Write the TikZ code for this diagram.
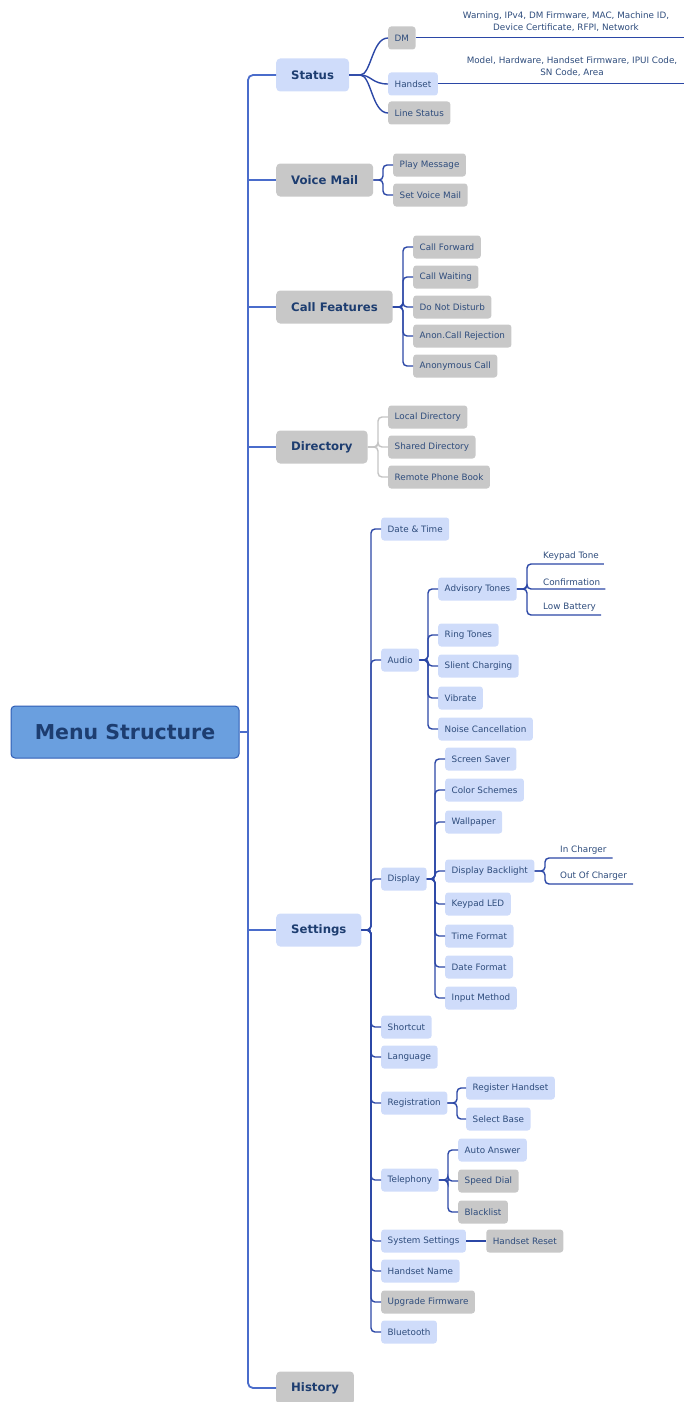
\documentclass[tikz,border=0pt]{standalone}
\usepackage{fontspec}
\setmainfont{DejaVu Sans}
\usetikzlibrary{positioning,calc}

\definecolor{rootfill}{HTML}{6A9FDF}
\definecolor{rootdraw}{HTML}{2F5DB5}
\definecolor{boxblue}{HTML}{CFDCFA}
\definecolor{boxgrey}{HTML}{C8C8C8}
\definecolor{linkblue}{HTML}{2B47A6}
\definecolor{trunkblue}{HTML}{4A6CCB}
\definecolor{txtblue}{HTML}{2E4C7C}
\definecolor{headblue}{HTML}{1D3D70}
\definecolor{dirgrey}{HTML}{C4C4C4}

\begin{document}
\begin{tikzpicture}[
  x=1pt, y=-1pt,
  root/.style={draw=rootdraw, fill=rootfill, line width=1pt, rounded corners=4pt,
    minimum width=228pt, minimum height=52pt, text=headblue,
    font=\bfseries\fontsize{20.5}{23}\selectfont},
  topic/.style={rounded corners=4pt, anchor=west, minimum height=33pt, inner xsep=15pt,
    text=headblue, font=\bfseries\fontsize{11.7}{13}\selectfont},
  leaf/.style={rounded corners=3pt, anchor=west, minimum height=23pt, inner xsep=6.5pt,
    text=txtblue, font=\fontsize{8.8}{10}\selectfont},
  tip/.style={anchor=south west, inner xsep=0pt, inner ysep=3pt,
    text=txtblue, font=\fontsize{8.8}{10}\selectfont},
  blue/.style={fill=boxblue},
  grey/.style={fill=boxgrey},
  trunk/.style={draw=trunkblue, line width=1.8pt, rounded corners=5pt},
  link/.style={draw=linkblue, line width=1.4pt, rounded corners=4pt},
  thin link/.style={draw=linkblue, line width=1pt},
  grey link/.style={draw=dirgrey, line width=1.4pt, rounded corners=4pt}
]
\useasboundingbox (0,0) rectangle (684,1402);

% root and first level
\node[root] (ms) at (125,732) {Menu Structure};
\coordinate (tr) at (248,732);
\node[topic, blue] (st)  at (276,75)   {Status};
\node[topic, grey] (vm)  at (276,180)  {Voice Mail};
\node[topic, grey] (cf)  at (276,307)  {Call Features};
\node[topic, grey] (dir) at (276,447)  {Directory};
\node[topic, blue] (set) at (276,930)  {Settings};
\node[topic, grey] (hi)  at (276,1388) {History};

% Status
\node[leaf, grey] (dm) at (388,38)  {DM};
\node[leaf, blue] (hs) at (388,84)  {Handset};
\node[leaf, grey] (ls) at (388,113) {Line Status};
\node[text=txtblue, align=center, font=\fontsize{8.8}{12}\selectfont] (dmi) at (566,22)
  {Warning, IPv4, DM Firmware, MAC, Machine ID,\\Device Certificate, RFPI, Network};
\node[text=txtblue, align=center, font=\fontsize{8.8}{12}\selectfont] (hsi) at (572,67)
  {Model, Hardware, Handset Firmware, IPUI Code,\\SN Code, Area};
\coordinate (dmend) at (684,38);
\coordinate (hsend) at (684,84);

% Voice Mail
\node[leaf, grey] (pm)  at (393,165) {Play Message};
\node[leaf, grey] (svm) at (393,195) {Set Voice Mail};

% Call Features
\node[leaf, grey] (cfw) at (413,247) {Call Forward};
\node[leaf, grey] (cwt) at (413,277) {Call Waiting};
\node[leaf, grey] (dnd) at (413,307) {Do Not Disturb};
\node[leaf, grey] (acr) at (413,336) {Anon.Call Rejection};
\node[leaf, grey] (anc) at (413,366) {Anonymous Call};

% Directory
\node[leaf, grey] (ld)  at (388,417) {Local Directory};
\node[leaf, grey] (sd)  at (388,447) {Shared Directory};
\node[leaf, grey] (rpb) at (388,477) {Remote Phone Book};

% Settings
\node[leaf, blue] (dt)  at (381,529)  {Date \& Time};
\node[leaf, blue] (au)  at (381,660)  {Audio};
\node[leaf, blue] (dp)  at (381,879)  {Display};
\node[leaf, blue] (sc)  at (381,1027) {Shortcut};
\node[leaf, blue] (lg)  at (381,1057) {Language};
\node[leaf, blue] (rg)  at (381,1103) {Registration};
\node[leaf, blue] (tp)  at (381,1180) {Telephony};
\node[leaf, blue] (sys) at (381,1241) {System Settings};
\node[leaf, blue] (hn)  at (381,1271) {Handset Name};
\node[leaf, grey] (uf)  at (381,1302) {Upgrade Firmware};
\node[leaf, blue] (bt)  at (381,1332) {Bluetooth};

% Audio
\node[leaf, blue] (adv) at (438,589) {Advisory Tones};
\node[leaf, blue] (rt)  at (438,635) {Ring Tones};
\node[leaf, blue] (sch) at (438,666) {Slient Charging};
\node[leaf, blue] (vb)  at (438,698) {Vibrate};
\node[leaf, blue] (nc)  at (438,729) {Noise Cancellation};
\node[tip] (kt)  at (543,564) {Keypad Tone};
\node[tip] (cnf) at (543,589) {Confirmation};
\node[tip] (lb)  at (543,615) {Low Battery};

% Display
\node[leaf, blue] (sv)  at (445,759) {Screen Saver};
\node[leaf, blue] (cs)  at (445,790) {Color Schemes};
\node[leaf, blue] (wp)  at (445,822) {Wallpaper};
\node[leaf, blue] (dbl) at (445,871) {Display Backlight};
\node[leaf, blue] (kl)  at (445,904) {Keypad LED};
\node[leaf, blue] (tf)  at (445,936) {Time Format};
\node[leaf, blue] (df)  at (445,967) {Date Format};
\node[leaf, blue] (im)  at (445,998) {Input Method};
\node[tip] (ic) at (560,858) {In Charger};
\node[tip] (oc) at (560,884) {Out Of Charger};

% Registration, Telephony, System Settings
\node[leaf, blue] (rh)  at (466,1088) {Register Handset};
\node[leaf, blue] (sb)  at (466,1119) {Select Base};
\node[leaf, blue] (aa)  at (458,1150) {Auto Answer};
\node[leaf, grey] (sdl) at (458,1181) {Speed Dial};
\node[leaf, grey] (bl)  at (458,1212) {Blacklist};
\node[leaf, grey, right=20pt of sys] (hr) {Handset Reset};

% connectors
\draw[trunk] (st.west) -| (tr) |- (hi.west);
\draw[trunk] (ms.east) -- (tr);
\foreach \t in {vm,cf,dir,set}
  \draw[trunk] (tr |- \t.west) -- (\t.west);

\foreach \c in {dm,hs,ls}
  \draw[link] (st.east) -- ++(7,0) .. controls +(15,0) and +(-16,0) .. (\c.west);
\draw[thin link] (dm.east) -- (dmend);
\draw[thin link] (hs.east) -- (hsend);

\foreach \c in {pm,svm}
  \draw[link] (vm.east) -| ([xshift=-10pt]\c.west) -- (\c.west);
\foreach \c in {cfw,cwt,dnd,acr,anc}
  \draw[link] (cf.east) -| ([xshift=-10pt]\c.west) -- (\c.west);
\foreach \c in {ld,sd,rpb}
  \draw[grey link] (dir.east) -| ([xshift=-10pt]\c.west) -- (\c.west);
\foreach \c in {dt,au,dp,sc,lg,rg,tp,sys,hn,uf,bt}
  \draw[link] (set.east) -| ([xshift=-10pt]\c.west) -- (\c.west);
\foreach \c in {adv,rt,sch,vb,nc}
  \draw[link] (au.east) -| ([xshift=-10pt]\c.west) -- (\c.west);
\foreach \c in {kt,cnf,lb}
  \draw[link] (adv.east) -| ([xshift=-16pt]\c.south west) -- ([xshift=5pt]\c.south east);
\foreach \c in {sv,cs,wp,dbl,kl,tf,df,im}
  \draw[link] (dp.east) -| ([xshift=-10pt]\c.west) -- (\c.west);
\foreach \c in {ic,oc}
  \draw[link] (dbl.east) -| ([xshift=-15pt]\c.south west) -- ([xshift=6pt]\c.south east);
\foreach \c in {rh,sb}
  \draw[link] (rg.east) -| ([xshift=-9pt]\c.west) -- (\c.west);
\foreach \c in {aa,sdl,bl}
  \draw[link] (tp.east) -| ([xshift=-10pt]\c.west) -- (\c.west);
\draw[link] (sys) -- (hr);
\end{tikzpicture}
\end{document}
